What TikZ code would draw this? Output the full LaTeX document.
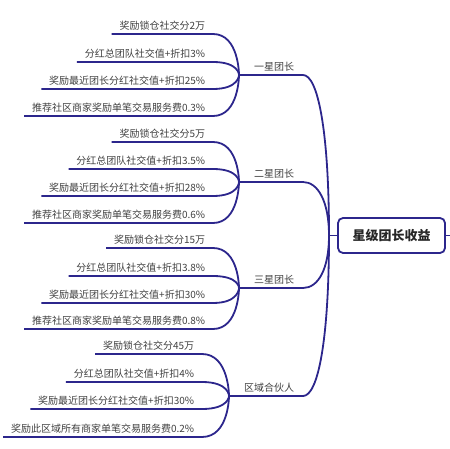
\documentclass[tikz,border=0pt]{standalone}
\usepackage{fontspec}
\setmainfont{Noto Sans CJK SC}
\definecolor{mapline}{RGB}{44,38,140}
\definecolor{leaftext}{RGB}{64,64,64}

\begin{document}
\begin{tikzpicture}[x=1pt,y=-1pt,line width=1.8pt]
\tikzset{leaf/.style={anchor=south east,inner xsep=7pt,inner ysep=3pt,text=leaftext,font=\fontsize{10}{12}\selectfont},
  branch/.style={anchor=south east,inner xsep=4pt,inner ysep=3pt,text=leaftext,font=\fontsize{10}{12}\selectfont},
  link/.style={draw=mapline,line width=1.8pt},
  rootbox/.style={draw=mapline,fill=white,line width=1.8pt,rounded corners=5pt,minimum width=107pt,minimum height=35pt,
    font=\bfseries\fontsize{13}{15}\selectfont,text=black!85}}
\useasboundingbox (0,0) rectangle (450,449);
% ---------- root ----------
\node[rootbox] (root) at (391.5,235.5) {星级团长收益};
\coordinate (rj) at (329,235.5);
\coordinate (rout) at (450,235.5);
\draw[link] (root.west) -- (rj);
\draw[link] (root.east) -- (rout);
% ---------- 一星团长 ----------
\coordinate (ja) at (239,75);
\coordinate (ea) at (303,75);
\node[branch] (ba) at (299,75) {一星团长};
\draw[link] (ja) -- (ea) .. controls +(15,0) and +(0,-104) .. (rj);
\foreach \i/\y/\t in {1/34/奖励锁仓社交分2万, 2/62/分红总团队社交值+折扣3\%,
  3/89/奖励最近团长分红社交值+折扣25\%, 4/116/推荐社区商家奖励单笔交易服务费0.3\%}{
  \node[leaf] (a\i) at (213,\y) {\t};
  \draw[link] (a\i.south west) -- (a\i.south east) .. controls (ja |- a\i.south east) and (ja) .. (ja);}
% ---------- 二星团长 ----------
\coordinate (jb) at (239,182);
\coordinate (eb) at (303,182);
\node[branch] (bb) at (299,182) {二星团长};
\draw[link] (jb) -- (eb) .. controls +(15,0) and +(0,-34) .. (rj);
\foreach \i/\y/\t in {1/142/奖励锁仓社交分5万, 2/169/分红总团队社交值+折扣3.5\%,
  3/196/奖励最近团长分红社交值+折扣28\%, 4/223/推荐社区商家奖励单笔交易服务费0.6\%}{
  \node[leaf] (b\i) at (213,\y) {\t};
  \draw[link] (b\i.south west) -- (b\i.south east) .. controls (jb |- b\i.south east) and (jb) .. (jb);}
% ---------- 三星团长 ----------
\coordinate (jc) at (239,288);
\coordinate (ec) at (303,288);
\node[branch] (bc) at (299,288) {三星团长};
\draw[link] (jc) -- (ec) .. controls +(15,0) and +(0,34) .. (rj);
\foreach \i/\y/\t in {1/248/奖励锁仓社交分15万, 2/276/分红总团队社交值+折扣3.8\%,
  3/303/奖励最近团长分红社交值+折扣30\%, 4/329/推荐社区商家奖励单笔交易服务费0.8\%}{
  \node[leaf] (c\i) at (213,\y) {\t};
  \draw[link] (c\i.south west) -- (c\i.south east) .. controls (jc |- c\i.south east) and (jc) .. (jc);}
% ---------- 区域合伙人 ----------
\coordinate (jd) at (229,396);
\coordinate (ed) at (303,396);
\node[branch] (bd) at (299,396) {区域合伙人};
\draw[link] (jd) -- (ed) .. controls +(15,0) and +(0,105) .. (rj);
\foreach \i/\y/\t in {1/354/奖励锁仓社交分45万, 2/382/分红总团队社交值+折扣4\%,
  3/409/奖励最近团长分红社交值+折扣30\%, 4/437/奖励此区域所有商家单笔交易服务费0.2\%}{
  \node[leaf] (d\i) at (202,\y) {\t};
  \draw[link] (d\i.south west) -- (d\i.south east) .. controls (jd |- d\i.south east) and (jd) .. (jd);}
\end{tikzpicture}
\end{document}
